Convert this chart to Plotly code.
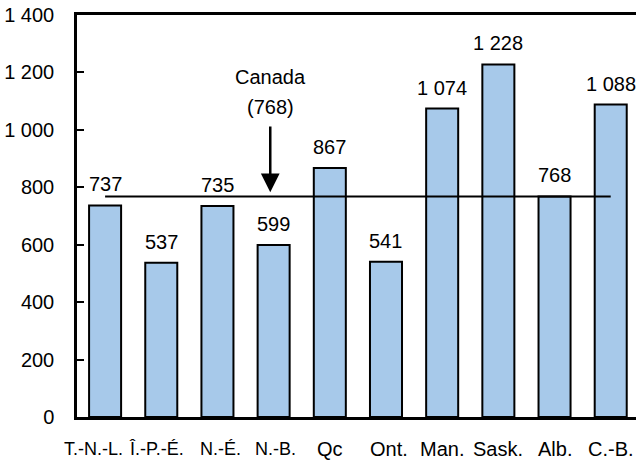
import plotly.graph_objects as go

provinces = ["T.-N.-L.", "Î.-P.-É.", "N.-É.", "N.-B.", "Qc", "Ont.", "Man.", "Sask.", "Alb.", "C.-B."]
values = [737, 537, 735, 599, 867, 541, 1074, 1228, 768, 1088]
canada = 768
y_tickvals = [0, 200, 400, 600, 800, 1000, 1200, 1400]
y_ticktext = ["0", "200", "400", "600", "800", "1 000", "1 200", "1 400"]

FONT = "Liberation Sans"
x_idx = list(range(len(provinces)))
label_sizes = [18, 18, 18, 18, 20, 20, 20, 20, 20, 20]
label_xshift = [-12, -5, 3, 2, 0, 3, 0, 0, 0, 0]

fig = go.Figure()
fig.add_trace(go.Bar(
    x=x_idx, y=values,
    marker=dict(color="#A7C9EA", line=dict(color="black", width=2)),
    width=0.57,
    hoverinfo="skip",
))
# Canada average line
fig.add_trace(go.Scatter(
    x=[x_idx[0], x_idx[-1]], y=[canada, canada],
    mode="lines", line=dict(color="black", width=2),
    hoverinfo="skip",
))

annotations = []
for xi, v in zip(x_idx, values):
    annotations.append(dict(
        x=xi, y=v, text=f"{v:,}".replace(",", " "),
        showarrow=False, yanchor="bottom", yshift=8,
        font=dict(family=FONT, size=20, color="black"),
    ))
# category labels
for i, p in enumerate(provinces):
    annotations.append(dict(
        x=x_idx[i], y=0, text=p, showarrow=False,
        yanchor="middle", yshift=-32, xshift=label_xshift[i],
        font=dict(family=FONT, size=label_sizes[i], color="black"),
    ))
# Canada label and arrow
annotations.append(dict(
    x=2.94, y=canada + 15, ax=2.94, ay=1017, axref="x", ayref="y",
    xref="x", yref="y", showarrow=True, arrowhead=2, arrowsize=1.5,
    arrowwidth=2.5, arrowcolor="black", text="",
))
annotations.append(dict(
    x=2.94, y=1184, text="Canada", showarrow=False,
    yanchor="middle", font=dict(family=FONT, size=20, color="black"),
))
annotations.append(dict(
    x=2.94, y=1080, text=f"({canada})", showarrow=False,
    yanchor="middle", font=dict(family=FONT, size=20, color="black"),
))

fig.update_layout(
    width=636, height=462,
    margin=dict(l=77, r=0, t=15, b=45),
    paper_bgcolor="white", plot_bgcolor="white",
    showlegend=False,
    annotations=annotations,
    font=dict(family=FONT, size=20, color="black"),
    xaxis=dict(
        range=[-0.5, 9.45], tickvals=x_idx, showticklabels=False,
        showline=True, linecolor="black", linewidth=2.5, mirror=True,
        ticks="", showgrid=False, zeroline=False, automargin=False,
    ),
    yaxis=dict(
        range=[0, 1400], tickvals=y_tickvals, ticktext=y_ticktext,
        showline=True, linecolor="black", linewidth=2.5,
        ticks="inside", ticklen=7, tickwidth=2, tickcolor="black",
        showgrid=False, zeroline=False, ticklabelstandoff=16,
        tickfont=dict(family=FONT, size=20), automargin=False,
    ),
)

fig.write_html(
    "out.html",
    config={"displayModeBar": False},
    post_script="document.body.style.margin='0';document.body.style.padding='0';",
)
